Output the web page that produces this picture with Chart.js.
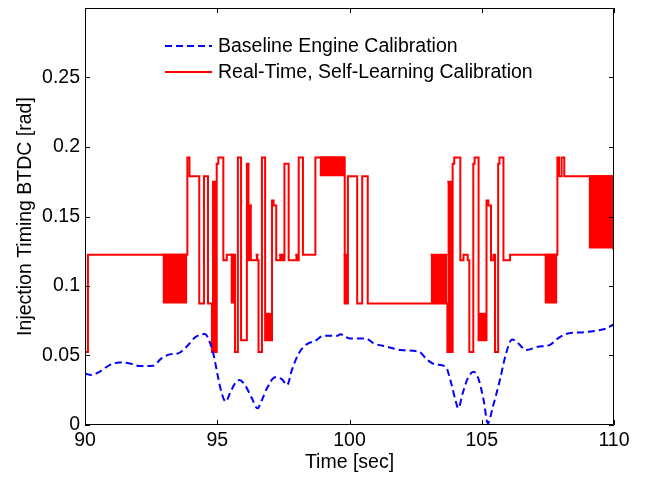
<!DOCTYPE html>
<html>
<head>
<meta charset="utf-8">
<script src="https://cdn.jsdelivr.net/npm/chart.js@4.4.1/dist/chart.umd.min.js"></script>
<style>
  html, body { margin: 0; padding: 0; background: #fff; }
  #wrap { width: 646px; height: 478px; }
</style>
</head>
<body>
<div id="wrap"><canvas id="chart" width="646" height="478"></canvas></div>
<script>
// ─── DATA ──────────────────────────────────────────────────────
const xTicks = [90, 95, 100, 105, 110];
const yTicks = [0, 0.05, 0.1, 0.15, 0.2, 0.25];

// baseline engine calibration (blue dashed)
const baseTime = [90.00, 90.23, 90.55, 90.93, 91.31, 91.69, 92.07, 92.57, 92.89, 93.21, 93.52, 93.84,
  94.16, 94.54, 94.66, 94.85, 95.04, 95.17, 95.32, 95.48, 95.67, 95.84, 96.05, 96.31, 96.52, 96.69,
  96.88, 97.19, 97.45, 97.64, 97.82, 98.08, 98.39, 98.71, 99.02, 99.53, 99.66, 100.00, 100.61, 100.92,
  101.43, 101.94, 102.63, 102.95, 103.26, 103.64, 103.83, 104.02, 104.11, 104.28, 104.47, 104.69,
  104.87, 105.07, 105.23, 105.42, 105.67, 105.92, 106.15, 106.36, 106.68, 107.12, 107.56, 107.88,
  108.26, 108.77, 109.27, 109.72, 110.00];
const baseValue = [0.0370, 0.0360, 0.0383, 0.0431, 0.0450, 0.0443, 0.0424, 0.0426, 0.0479, 0.0508, 0.0515, 0.0563,
  0.0630, 0.0654, 0.0623, 0.0515, 0.0335, 0.0228, 0.0168, 0.0228, 0.0300, 0.0323, 0.0287, 0.0192, 0.0120, 0.0180,
  0.0264, 0.0343, 0.0328, 0.0287, 0.0395, 0.0515, 0.0582, 0.0606, 0.0642, 0.0642, 0.0652, 0.0623, 0.0623, 0.0587,
  0.0563, 0.0539, 0.0527, 0.0467, 0.0436, 0.0419, 0.0311, 0.0168, 0.0120, 0.0228, 0.0335, 0.0383,
  0.0335, 0.0180, 0.0012, 0.0131, 0.0311, 0.0515, 0.0616, 0.0591, 0.0539, 0.0563, 0.0575, 0.0623,
  0.0659, 0.0666, 0.0677, 0.0695, 0.0725];

// real-time self-learning calibration (red, held value from each time)
const learnTime = [90.00, 90.11, 93.87, 93.95, 94.32, 94.50, 94.65, 94.80, 94.98, 95.04, 95.23, 95.36,
  95.67, 95.78, 95.90, 96.12, 96.18, 96.56, 96.69, 96.81, 97.07, 97.13, 97.23, 97.54, 97.70, 98.08,
  98.24, 98.71, 99.82, 99.94, 100.29, 100.48, 100.69, 103.70, 103.90, 103.96, 104.19, 104.31, 104.47,
  104.53, 104.68, 104.73, 104.88, 105.18, 105.25, 105.35, 105.44, 105.50, 105.62, 105.67, 105.82,
  106.07, 107.86, 107.92, 108.02, 108.12, 109.97, 110.00];
const learnValue = [0.0525, 0.1225, 0.1925, 0.179, 0.0875, 0.179, 0.0875, 0.0525, 0.188, 0.1925, 0.1185, 0.1225,
  0.0525, 0.1925, 0.061, 0.188, 0.1185, 0.0525, 0.1925, 0.061, 0.1615, 0.158, 0.1185, 0.188, 0.1185, 0.1925,
  0.1225, 0.1925, 0.0875, 0.179, 0.0875, 0.179, 0.0875, 0.0525, 0.188, 0.1925, 0.1185, 0.1225, 0.1185,
  0.0525, 0.188, 0.1925, 0.061, 0.1615, 0.158, 0.1185, 0.1225, 0.0525, 0.188, 0.1925, 0.1185,
  0.1225, 0.1925, 0.179, 0.1925, 0.179, 0.127, 0.127];

// stretches where the red signal chatters too fast to resolve (drawn solid)
const bandStart = [92.93, 94.80, 95.50, 96.18, 96.45, 96.81, 97.34, 97.95, 98.87, 99.78, 103.07, 103.70, 104.88, 107.37, 109.04];
const bandEnd   = [93.87, 94.98, 95.67, 96.31, 96.56, 97.07, 97.54, 98.08, 99.82, 99.94, 103.70, 103.90, 105.18, 107.86, 109.97];
const bandLow   = [0.0875, 0.0525, 0.0875, 0.1185, 0.1185, 0.061, 0.1185, 0.1185, 0.179, 0.0875, 0.0875, 0.0525, 0.061, 0.0875, 0.127];
const bandHigh  = [0.1225, 0.175, 0.1225, 0.158, 0.1225, 0.080, 0.1225, 0.1225, 0.1925, 0.1225, 0.1225, 0.175, 0.080, 0.1225, 0.179];

const FONT = "'Liberation Sans', Arial, sans-serif";
const FSIZE = 19.5;
const RED = "#ff0000";
const BLUE = "#0000ff";

// ─── DATASETS ──────────────────────────────────────────────────
const datasets = [
  {
    label: "Baseline Engine Calibration",
    data: baseTime.map((t, i) => ({ x: t, y: baseValue[i] })),
    borderColor: BLUE,
    borderWidth: 2,
    borderDash: [7, 4],
    cubicInterpolationMode: "monotone",
    pointRadius: 0,
  },
  {
    label: "Real-Time, Self-Learning Calibration",
    data: learnTime.map((t, i) => ({ x: t, y: learnValue[i] })),
    borderColor: RED,
    borderWidth: 2,
    stepped: true,
    pointRadius: 0,
  },
];

bandStart.forEach((s, i) => {
  datasets.push({
    label: "band",
    data: [{ x: s, y: bandHigh[i] }, { x: bandEnd[i], y: bandHigh[i] }],
    borderColor: RED,
    borderWidth: 2,
    backgroundColor: RED,
    fill: { value: bandLow[i] },
    pointRadius: 0,
  });
});

// ─── BOX, INWARD TICKS, LEGEND ─────────────────────────────────
const matlabAxes = {
  id: "matlabAxes",
  afterDraw(chart) {
    const { ctx, chartArea: a, scales: { x, y } } = chart;
    ctx.save();
    ctx.strokeStyle = "#000";
    ctx.lineWidth = 1;
    ctx.beginPath();
    ctx.rect(a.left + 0.5, a.top + 0.5, a.right - a.left - 1, a.bottom - a.top - 1);
    xTicks.forEach((v) => {
      const px = Math.round(x.getPixelForValue(v)) + 0.5;
      ctx.moveTo(px, a.bottom); ctx.lineTo(px, a.bottom - 5);
      ctx.moveTo(px, a.top); ctx.lineTo(px, a.top + 5);
    });
    yTicks.forEach((v) => {
      const py = Math.round(y.getPixelForValue(v)) + 0.5;
      ctx.moveTo(a.left, py); ctx.lineTo(a.left + 5, py);
      ctx.moveTo(a.right, py); ctx.lineTo(a.right - 5, py);
    });
    ctx.stroke();

    // legend (first two datasets only)
    const items = [
      { text: datasets[0].label, color: BLUE, dash: [7, 4], y: 46 },
      { text: datasets[1].label, color: RED, dash: [], y: 72 },
    ];
    ctx.font = FSIZE + "px " + FONT;
    ctx.textBaseline = "middle";
    items.forEach((it) => {
      ctx.beginPath();
      ctx.setLineDash(it.dash);
      ctx.strokeStyle = it.color;
      ctx.lineWidth = 2;
      ctx.moveTo(165, it.y); ctx.lineTo(212, it.y);
      ctx.stroke();
      ctx.setLineDash([]);
      ctx.fillStyle = "#000";
      ctx.fillText(it.text, 218, it.y + 1);
    });
    ctx.restore();
  },
};

// ─── CHART ─────────────────────────────────────────────────────
new Chart(document.getElementById("chart"), {
  type: "line",
  data: { datasets },
  plugins: [matlabAxes],
  options: {
    responsive: false,
    animation: false,
    devicePixelRatio: 1,
    layout: { padding: { top: 8, right: 32, left: 0, bottom: 0 } },
    plugins: { legend: { display: false }, tooltip: { enabled: false } },
    scales: {
      x: {
        type: "linear",
        min: 90,
        max: 110,
        afterBuildTicks: (scale) => { scale.ticks = xTicks.map((v) => ({ value: v })); },
        afterFit: (scale) => { scale.height = 53; scale.paddingLeft = 0; scale.paddingRight = 0; },
        grid: { display: false, drawTicks: false },
        border: { display: false },
        ticks: { color: "#000", font: { family: FONT, size: FSIZE }, padding: 4, maxRotation: 0 },
        title: { display: true, text: "Time [sec]", color: "#000", font: { family: FONT, size: FSIZE }, padding: { bottom: 4 } },
      },
      y: {
        min: 0,
        max: 0.3,
        afterBuildTicks: (scale) => { scale.ticks = yTicks.map((v) => ({ value: v })); },
        afterFit: (scale) => { scale.width = 85; scale.paddingTop = 0; scale.paddingBottom = 0; },
        grid: { display: false, drawTicks: false },
        border: { display: false },
        ticks: {
          color: "#000",
          font: { family: FONT, size: FSIZE },
          padding: 5,
          callback: (v) => String(parseFloat(Number(v).toFixed(2))),
        },
        title: { display: true, text: "Injection Timing BTDC [rad]", color: "#000", font: { family: FONT, size: FSIZE }, padding: { top: 14 } },
      },
    },
  },
});
</script>
</body>
</html>
